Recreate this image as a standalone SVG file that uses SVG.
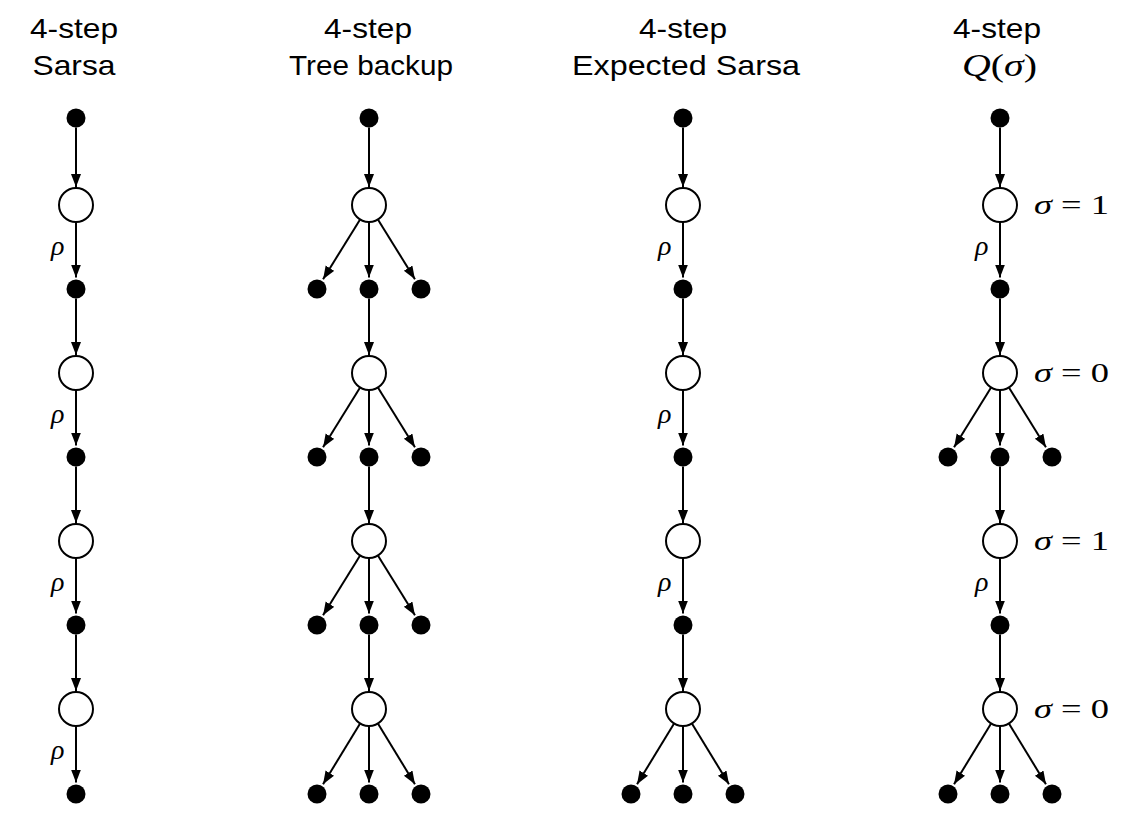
<svg xmlns="http://www.w3.org/2000/svg" width="1126" height="830" viewBox="0 0 1126 830">
<defs>
<marker id="ah" markerUnits="userSpaceOnUse" markerWidth="14" markerHeight="11" refX="13" refY="5" orient="auto">
<path d="M0,0 L13,5 L0,10 z" fill="#000"/>
</marker>
<style>
.t{font-family:"Liberation Sans",Arial,Helvetica,sans-serif;font-size:28px;fill:#000;text-anchor:middle}
.m{font-family:"Liberation Serif","Times New Roman",serif;font-size:28px;fill:#000}
.q{font-family:"Liberation Serif","Times New Roman",serif;font-size:31px;fill:#000}
.r{font-family:"Liberation Serif","Times New Roman",serif;font-size:28px;font-style:italic;fill:#000}
.d{fill:#000}
.c{fill:#fff;stroke:#000;stroke-width:2}
.e line{stroke:#000;stroke-width:2;marker-end:url(#ah)}
</style>
</defs>
<rect width="1126" height="830" fill="#fff"/>

<g id="titles">
<text class="t" x="74" y="38" textLength="88" lengthAdjust="spacingAndGlyphs">4-step</text>
<text class="t" x="74" y="75" textLength="83" lengthAdjust="spacingAndGlyphs">Sarsa</text>
<text class="t" x="368" y="38" textLength="88" lengthAdjust="spacingAndGlyphs">4-step</text>
<text class="t" x="371" y="75" textLength="164" lengthAdjust="spacingAndGlyphs">Tree backup</text>
<text class="t" x="683" y="38" textLength="88" lengthAdjust="spacingAndGlyphs">4-step</text>
<text class="t" x="686" y="75" textLength="228" lengthAdjust="spacingAndGlyphs">Expected Sarsa</text>
<text class="t" x="997" y="38" textLength="88" lengthAdjust="spacingAndGlyphs">4-step</text>
<text class="q" x="962" y="76" textLength="75" lengthAdjust="spacingAndGlyphs"><tspan font-style="italic">Q</tspan>(<tspan font-style="italic">σ</tspan>)</text>
</g>

<g id="connectors" class="e">
<!-- column 1 -->
<line x1="76" y1="127.5" x2="76" y2="187"/>
<line x1="76" y1="222" x2="76" y2="277.5"/>
<line x1="76" y1="298.5" x2="76" y2="355"/>
<line x1="76" y1="390" x2="76" y2="445.5"/>
<line x1="76" y1="466.5" x2="76" y2="523"/>
<line x1="76" y1="558" x2="76" y2="613.5"/>
<line x1="76" y1="634.5" x2="76" y2="691"/>
<line x1="76" y1="726" x2="76" y2="782.5"/>
<!-- column 2 -->
<line x1="369" y1="127.5" x2="369" y2="187"/>
<line x1="369" y1="222" x2="369" y2="277.5"/>
<line x1="360.1" y1="219.5" x2="323.05" y2="279.2"/>
<line x1="377.9" y1="219.5" x2="414.95" y2="279.2"/>
<line x1="369" y1="298.5" x2="369" y2="355"/>
<line x1="369" y1="390" x2="369" y2="445.5"/>
<line x1="360.1" y1="387.5" x2="323.05" y2="447.2"/>
<line x1="377.9" y1="387.5" x2="414.95" y2="447.2"/>
<line x1="369" y1="466.5" x2="369" y2="523"/>
<line x1="369" y1="558" x2="369" y2="613.5"/>
<line x1="360.1" y1="555.5" x2="323.05" y2="615.2"/>
<line x1="377.9" y1="555.5" x2="414.95" y2="615.2"/>
<line x1="369" y1="634.5" x2="369" y2="691"/>
<line x1="369" y1="726" x2="369" y2="782.5"/>
<line x1="360.1" y1="723.5" x2="323.05" y2="784.2"/>
<line x1="377.9" y1="723.5" x2="414.95" y2="784.2"/>
<!-- column 3 -->
<line x1="683" y1="127.5" x2="683" y2="187"/>
<line x1="683" y1="222" x2="683" y2="277.5"/>
<line x1="683" y1="298.5" x2="683" y2="355"/>
<line x1="683" y1="390" x2="683" y2="445.5"/>
<line x1="683" y1="466.5" x2="683" y2="523"/>
<line x1="683" y1="558" x2="683" y2="613.5"/>
<line x1="683" y1="634.5" x2="683" y2="691"/>
<line x1="683" y1="726" x2="683" y2="782.5"/>
<line x1="674.1" y1="723.5" x2="637.05" y2="784.2"/>
<line x1="691.9" y1="723.5" x2="728.95" y2="784.2"/>
<!-- column 4 -->
<line x1="1000" y1="127.5" x2="1000" y2="187"/>
<line x1="1000" y1="222" x2="1000" y2="277.5"/>
<line x1="1000" y1="298.5" x2="1000" y2="355"/>
<line x1="1000" y1="390" x2="1000" y2="445.5"/>
<line x1="991.1" y1="387.5" x2="954.05" y2="447.2"/>
<line x1="1008.9" y1="387.5" x2="1045.95" y2="447.2"/>
<line x1="1000" y1="466.5" x2="1000" y2="523"/>
<line x1="1000" y1="558" x2="1000" y2="613.5"/>
<line x1="1000" y1="634.5" x2="1000" y2="691"/>
<line x1="1000" y1="726" x2="1000" y2="782.5"/>
<line x1="991.1" y1="723.5" x2="954.05" y2="784.2"/>
<line x1="1008.9" y1="723.5" x2="1045.95" y2="784.2"/>
</g>

<g id="labels">
<text class="r" x="51" y="255">ρ</text>
<text class="r" x="51" y="423">ρ</text>
<text class="r" x="51" y="591">ρ</text>
<text class="r" x="51" y="759">ρ</text>
<text class="r" x="658" y="255">ρ</text>
<text class="r" x="658" y="423">ρ</text>
<text class="r" x="658" y="591">ρ</text>
<text class="r" x="975" y="255">ρ</text>
<text class="r" x="975" y="591">ρ</text>
<text class="m" x="1034" y="214" textLength="75" lengthAdjust="spacingAndGlyphs"><tspan font-style="italic">σ</tspan> = 1</text>
<text class="m" x="1034" y="382" textLength="75" lengthAdjust="spacingAndGlyphs"><tspan font-style="italic">σ</tspan> = 0</text>
<text class="m" x="1034" y="550" textLength="75" lengthAdjust="spacingAndGlyphs"><tspan font-style="italic">σ</tspan> = 1</text>
<text class="m" x="1034" y="718" textLength="75" lengthAdjust="spacingAndGlyphs"><tspan font-style="italic">σ</tspan> = 0</text>
</g>

<!-- column 1 nodes -->
<g id="c1s0"><circle class="d" cx="76" cy="118" r="9.5"/></g>
<g id="c1a1"><circle class="c" cx="76" cy="205" r="17"/></g>
<g id="c1s1"><circle class="d" cx="76" cy="289" r="9.5"/></g>
<g id="c1a2"><circle class="c" cx="76" cy="373" r="17"/></g>
<g id="c1s2"><circle class="d" cx="76" cy="457" r="9.5"/></g>
<g id="c1a3"><circle class="c" cx="76" cy="541" r="17"/></g>
<g id="c1s3"><circle class="d" cx="76" cy="625" r="9.5"/></g>
<g id="c1a4"><circle class="c" cx="76" cy="709" r="17"/></g>
<g id="c1s4"><circle class="d" cx="76" cy="794" r="9.5"/></g>

<!-- column 2 nodes -->
<g id="c2s0"><circle class="d" cx="369" cy="118" r="9.5"/></g>
<g id="c2a1"><circle class="c" cx="369" cy="205" r="17"/></g>
<g id="c2s1l"><circle class="d" cx="317" cy="289" r="9.5"/></g>
<g id="c2s1"><circle class="d" cx="369" cy="289" r="9.5"/></g>
<g id="c2s1r"><circle class="d" cx="421" cy="289" r="9.5"/></g>
<g id="c2a2"><circle class="c" cx="369" cy="373" r="17"/></g>
<g id="c2s2l"><circle class="d" cx="317" cy="457" r="9.5"/></g>
<g id="c2s2"><circle class="d" cx="369" cy="457" r="9.5"/></g>
<g id="c2s2r"><circle class="d" cx="421" cy="457" r="9.5"/></g>
<g id="c2a3"><circle class="c" cx="369" cy="541" r="17"/></g>
<g id="c2s3l"><circle class="d" cx="317" cy="625" r="9.5"/></g>
<g id="c2s3"><circle class="d" cx="369" cy="625" r="9.5"/></g>
<g id="c2s3r"><circle class="d" cx="421" cy="625" r="9.5"/></g>
<g id="c2a4"><circle class="c" cx="369" cy="709" r="17"/></g>
<g id="c2s4l"><circle class="d" cx="317" cy="794" r="9.5"/></g>
<g id="c2s4"><circle class="d" cx="369" cy="794" r="9.5"/></g>
<g id="c2s4r"><circle class="d" cx="421" cy="794" r="9.5"/></g>

<!-- column 3 nodes -->
<g id="c3s0"><circle class="d" cx="683" cy="118" r="9.5"/></g>
<g id="c3a1"><circle class="c" cx="683" cy="205" r="17"/></g>
<g id="c3s1"><circle class="d" cx="683" cy="289" r="9.5"/></g>
<g id="c3a2"><circle class="c" cx="683" cy="373" r="17"/></g>
<g id="c3s2"><circle class="d" cx="683" cy="457" r="9.5"/></g>
<g id="c3a3"><circle class="c" cx="683" cy="541" r="17"/></g>
<g id="c3s3"><circle class="d" cx="683" cy="625" r="9.5"/></g>
<g id="c3a4"><circle class="c" cx="683" cy="709" r="17"/></g>
<g id="c3s4l"><circle class="d" cx="631" cy="794" r="9.5"/></g>
<g id="c3s4"><circle class="d" cx="683" cy="794" r="9.5"/></g>
<g id="c3s4r"><circle class="d" cx="735" cy="794" r="9.5"/></g>

<!-- column 4 nodes -->
<g id="c4s0"><circle class="d" cx="1000" cy="118" r="9.5"/></g>
<g id="c4a1"><circle class="c" cx="1000" cy="205" r="17"/></g>
<g id="c4s1"><circle class="d" cx="1000" cy="289" r="9.5"/></g>
<g id="c4a2"><circle class="c" cx="1000" cy="373" r="17"/></g>
<g id="c4s2l"><circle class="d" cx="948" cy="457" r="9.5"/></g>
<g id="c4s2"><circle class="d" cx="1000" cy="457" r="9.5"/></g>
<g id="c4s2r"><circle class="d" cx="1052" cy="457" r="9.5"/></g>
<g id="c4a3"><circle class="c" cx="1000" cy="541" r="17"/></g>
<g id="c4s3"><circle class="d" cx="1000" cy="625" r="9.5"/></g>
<g id="c4a4"><circle class="c" cx="1000" cy="709" r="17"/></g>
<g id="c4s4l"><circle class="d" cx="948" cy="794" r="9.5"/></g>
<g id="c4s4"><circle class="d" cx="1000" cy="794" r="9.5"/></g>
<g id="c4s4r"><circle class="d" cx="1052" cy="794" r="9.5"/></g>
</svg>
